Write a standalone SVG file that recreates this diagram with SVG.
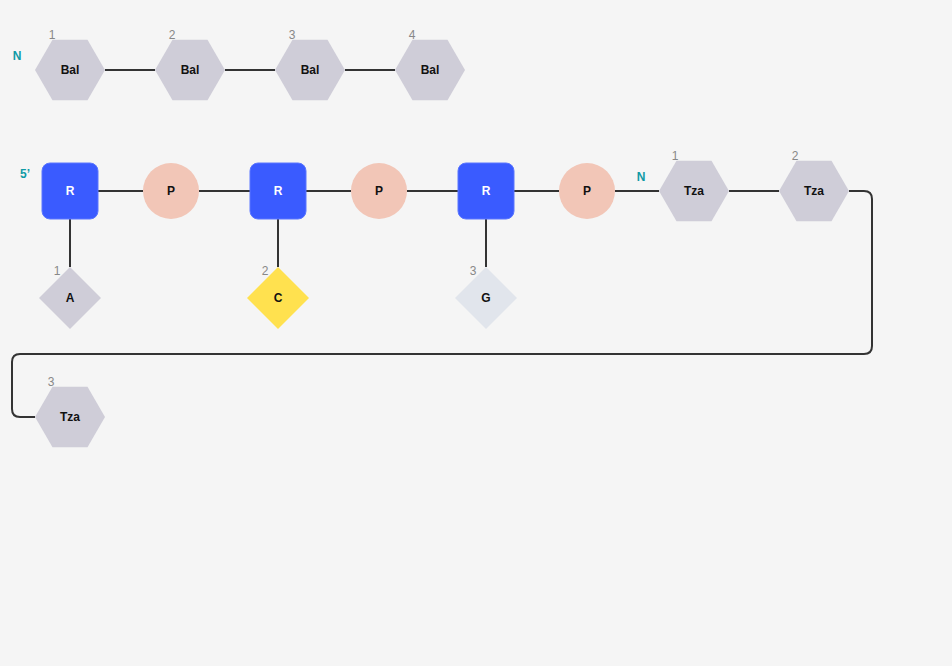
<svg xmlns="http://www.w3.org/2000/svg" width="952" height="666" viewBox="0 0 952 666">
<style>
.hex{fill:#cfcdd8}
.sq{fill:#3a5bff;stroke:#5a76ff;stroke-width:1}
.ph{fill:#f2c6b7}
.lbl{font-family:"Liberation Sans",Arial,sans-serif;font-size:12px;font-weight:bold;fill:#111;text-anchor:middle;dominant-baseline:central}
.wl{fill:#fff}
.num{font-family:"Liberation Sans",Arial,sans-serif;font-size:12px;fill:#888;text-anchor:middle}
.term{font-family:"Liberation Sans",Arial,sans-serif;font-size:12px;font-weight:bold;fill:#0f9aa5;text-anchor:middle}
.conn{stroke:#333;stroke-width:2;fill:none}
</style>
<defs>
<polygon id="hx" points="-35,0 -17.5,-30.3 17.5,-30.3 35,0 17.5,30.3 -17.5,30.3"/>
</defs>
<rect width="952" height="666" fill="#f5f5f5"/>
<g id="connectors">
<line class="conn" x1="105" y1="70" x2="155" y2="70"/>
<line class="conn" x1="225" y1="70" x2="275" y2="70"/>
<line class="conn" x1="345" y1="70" x2="395" y2="70"/>
<line class="conn" x1="98" y1="191" x2="143" y2="191"/>
<line class="conn" x1="199" y1="191" x2="250" y2="191"/>
<line class="conn" x1="306" y1="191" x2="351" y2="191"/>
<line class="conn" x1="407" y1="191" x2="458" y2="191"/>
<line class="conn" x1="514" y1="191" x2="559" y2="191"/>
<line class="conn" x1="615" y1="191" x2="659" y2="191"/>
<line class="conn" x1="729" y1="191" x2="779" y2="191"/>
<line class="conn" x1="70" y1="219" x2="70" y2="267"/>
<line class="conn" x1="278" y1="219" x2="278" y2="267"/>
<line class="conn" x1="486" y1="219" x2="486" y2="267"/>
<path class="conn" d="M849,191 H864 Q872,191 872,199 V346 Q872,354 864,354 H20 Q12,354 12,362 V409 Q12,417 20,417 H35"/>
</g>
<text class="term" x="17" y="60">N</text>
<g id="bal1"><use href="#hx" class="hex" x="70" y="70"/><text class="lbl" x="70" y="70">Bal</text><text class="num" x="52" y="39">1</text></g>
<g id="bal2"><use href="#hx" class="hex" x="190" y="70"/><text class="lbl" x="190" y="70">Bal</text><text class="num" x="172" y="39">2</text></g>
<g id="bal3"><use href="#hx" class="hex" x="310" y="70"/><text class="lbl" x="310" y="70">Bal</text><text class="num" x="292" y="39">3</text></g>
<g id="bal4"><use href="#hx" class="hex" x="430" y="70"/><text class="lbl" x="430" y="70">Bal</text><text class="num" x="412" y="39">4</text></g>
<text class="term" x="25" y="178">5’</text>
<g id="r1"><rect class="sq" x="42" y="163" width="56" height="56" rx="8"/><text class="lbl wl" x="70" y="191">R</text></g>
<g id="p1"><circle class="ph" cx="171" cy="191" r="28"/><text class="lbl" x="171" y="191">P</text></g>
<g id="r2"><rect class="sq" x="250" y="163" width="56" height="56" rx="8"/><text class="lbl wl" x="278" y="191">R</text></g>
<g id="p2"><circle class="ph" cx="379" cy="191" r="28"/><text class="lbl" x="379" y="191">P</text></g>
<g id="r3"><rect class="sq" x="458" y="163" width="56" height="56" rx="8"/><text class="lbl wl" x="486" y="191">R</text></g>
<g id="p3"><circle class="ph" cx="587" cy="191" r="28"/><text class="lbl" x="587" y="191">P</text></g>
<g id="bA"><polygon points="70,267 101,298 70,329 39,298" fill="#cfcdd8"/><text class="lbl" x="70" y="298">A</text><text class="num" x="57" y="275">1</text></g>
<g id="bC"><polygon points="278,267 309,298 278,329 247,298" fill="#ffe14f"/><text class="lbl" x="278" y="298">C</text><text class="num" x="265" y="275">2</text></g>
<g id="bG"><polygon points="486,267 517,298 486,329 455,298" fill="#e1e5ec"/><text class="lbl" x="486" y="298">G</text><text class="num" x="473" y="275">3</text></g>
<text class="term" x="641" y="181">N</text>
<g id="tza1"><use href="#hx" class="hex" x="694" y="191"/><text class="lbl" x="694" y="191">Tza</text><text class="num" x="675" y="160">1</text></g>
<g id="tza2"><use href="#hx" class="hex" x="814" y="191"/><text class="lbl" x="814" y="191">Tza</text><text class="num" x="795" y="160">2</text></g>
<g id="tza3"><use href="#hx" class="hex" x="70" y="417"/><text class="lbl" x="70" y="417">Tza</text><text class="num" x="51" y="386">3</text></g>
</svg>
